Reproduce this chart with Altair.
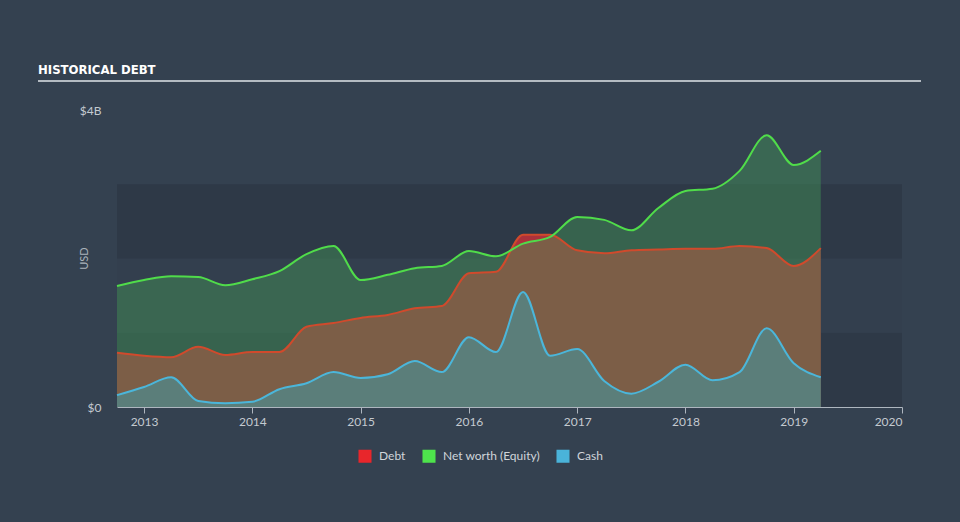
import altair as alt
import pandas as pd

# ---- data (values in $ billions) ----
quarters = [2012.75, 2013.0, 2013.25, 2013.5, 2013.75, 2014.0, 2014.25, 2014.5, 2014.75,
            2015.0, 2015.25, 2015.5, 2015.75, 2016.0, 2016.25, 2016.5, 2016.75,
            2017.0, 2017.25, 2017.5, 2017.75, 2018.0, 2018.25, 2018.5, 2018.75,
            2019.0, 2019.25]
debt = [0.73, 0.69, 0.67, 0.81, 0.70, 0.74, 0.74, 1.08, 1.13, 1.20, 1.24, 1.33, 1.36,
        1.80, 1.82, 2.32, 2.32, 2.11, 2.07, 2.11, 2.12, 2.13, 2.13, 2.17, 2.14, 1.90, 2.14]
equity = [1.63, 1.71, 1.76, 1.75, 1.64, 1.72, 1.83, 2.06, 2.17, 1.71, 1.78, 1.87, 1.90,
          2.10, 2.03, 2.20, 2.29, 2.56, 2.52, 2.38, 2.68, 2.91, 2.94, 3.18, 3.66, 3.26, 3.45]
cash = [0.16, 0.27, 0.40, 0.08, 0.05, 0.07, 0.24, 0.32, 0.47, 0.39, 0.44, 0.62, 0.47,
        0.94, 0.74, 1.55, 0.69, 0.78, 0.35, 0.18, 0.34, 0.57, 0.36, 0.47, 1.06, 0.59, 0.40]

series_names = ["Debt", "Net worth (Equity)", "Cash"]
legend_colors = ["#e8262b", "#4ee34c", "#4ab3d9"]
year_ticks = [2013, 2014, 2015, 2016, 2017, 2018, 2019, 2020]
band_lo = [0, 1, 2]
band_hi = [1, 2, 3]
band_col = ["#2e3947", "#333f4e", "#2e3947"]

df = pd.DataFrame({"t": quarters, "debt": debt, "equity": equity, "cash": cash})
long_df = pd.DataFrame({
    "t": quarters * 3,
    "value": debt + equity + cash,
    "series": [series_names[0]] * len(quarters) + [series_names[1]] * len(quarters)
              + [series_names[2]] * len(quarters),
})
bands = pd.DataFrame({"lo": band_lo, "hi": band_hi, "c": band_col})

W, H = 785, 297
xs = alt.Scale(domain=[2012.75, 2020], nice=False, zero=False)
ys = alt.Scale(domain=[0, 4], nice=False)

x_axis = alt.Axis(values=year_ticks, format="d", title=None, grid=False,
                  domainColor="#aeb6bf", tickColor="#aeb6bf", tickSize=6,
                  labelPadding=3, labelFontSize=12, labelColor="#c4cad0",
                  labelFont="Lato")
y_axis = alt.Axis(values=[0, 4], grid=False, domain=False, ticks=False,
                  labelExpr="datum.value == 0 ? '$0' : '$' + datum.value + 'B'",
                  labelPadding=16, labelFontSize=12, labelColor="#c4cad0", labelFont="Lato",
                  title="USD", titleColor="#aab2ba", titleFont="Lato", titleFontSize=11,
                  titleFontWeight="normal", titleAngle=-90, titleX=-33, titleY=148,
                  titleAlign="center", titleBaseline="middle")

band_layer = alt.Chart(bands).mark_rect().encode(
    x=alt.value(0), x2=alt.value(W),
    y=alt.Y("lo:Q", scale=ys, axis=y_axis), y2="hi:Q",
    color=alt.Color("c:N", scale=None),
)

base = alt.Chart(df)
X = alt.X("t:Q", scale=xs, axis=x_axis)

debt_area = base.mark_area(interpolate="monotone", color="#ac313b", opacity=1).encode(
    x=X, y=alt.Y("debt:Q", scale=ys))
equity_area = base.mark_area(interpolate="monotone", color="#439757", opacity=0.45).encode(
    x=X, y=alt.Y("equity:Q", scale=ys))
debt_line = base.mark_line(interpolate="monotone", color="#d04a2c", strokeWidth=2).encode(
    x=X, y=alt.Y("debt:Q", scale=ys))
equity_line = base.mark_line(interpolate="monotone", color="#50dc4a", strokeWidth=2).encode(
    x=X, y=alt.Y("equity:Q", scale=ys))
cash_area = base.mark_area(interpolate="monotone", color="#5b7e7a", opacity=1).encode(
    x=X, y=alt.Y("cash:Q", scale=ys))
cash_line = base.mark_line(interpolate="monotone", color="#4bb6da", strokeWidth=2).encode(
    x=X, y=alt.Y("cash:Q", scale=ys))

legend_layer = alt.Chart(long_df).mark_square(opacity=0).encode(
    x=X, y=alt.Y("value:Q", scale=ys),
    color=alt.Color("series:N",
                    scale=alt.Scale(domain=series_names, range=legend_colors),
                    legend=alt.Legend(title=None, orient="none", direction="horizontal",
                                      legendX=241, legendY=339, symbolType="square",
                                      symbolSize=170, symbolOpacity=1, symbolStrokeWidth=0,
                                      labelColor="#d0d5da", labelFont="Lato",
                                      labelFontSize=12, labelOffset=7, columnPadding=16)),
)

rule_df = pd.DataFrame({"k": [1]})
title_rule = alt.Chart(rule_df).mark_rule(color="#b4bbc2", strokeWidth=2).encode(
    x=alt.value(-79), x2=alt.value(804), y=alt.value(-29))

chart = alt.layer(
    band_layer, debt_area, equity_area, debt_line, equity_line, cash_area, cash_line,
    legend_layer, title_rule,
).properties(
    width=W, height=H,
    autosize=alt.AutoSizeParams(type="none"),
    padding={"left": 117, "top": 110, "right": 58, "bottom": 115},
    title=alt.TitleParams("HISTORICAL DEBT", anchor="start", frame="group", dx=-79,
                          offset=3, font="'DejaVu Sans Condensed', sans-serif",
                          fontSize=13, fontWeight="bold", color="#ffffff"),
).configure(background="#344150").configure_view(stroke=None)

chart.save("out.html", embed_options={"renderer": "svg", "actions": False})
